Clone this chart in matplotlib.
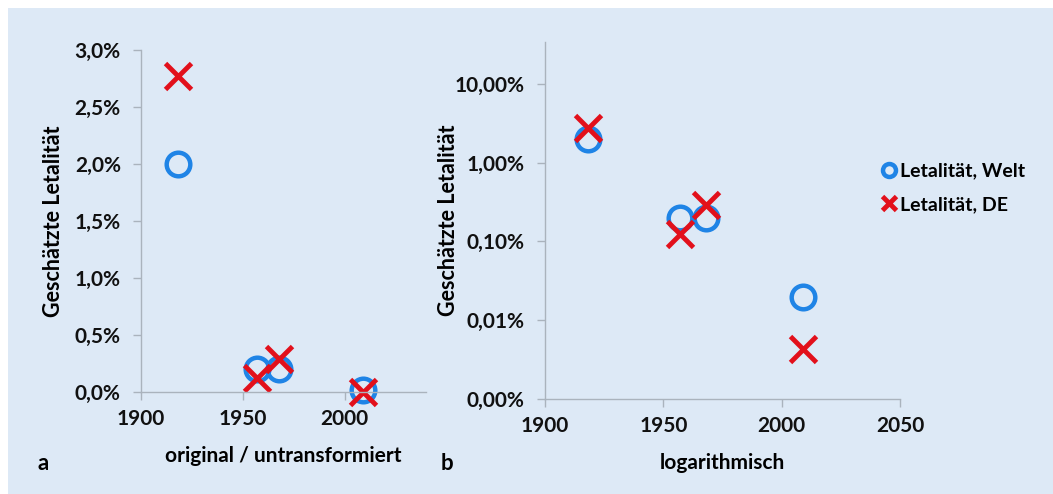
import matplotlib
matplotlib.use('Agg')
import matplotlib.pyplot as plt
from matplotlib.ticker import FuncFormatter, FixedLocator, NullLocator
from matplotlib.patches import Rectangle

# Data (Letalität in %)
years = [1918, 1957, 1968, 2009]
welt = [2.0, 0.2, 0.2, 0.02]
de = [2.77, 0.125, 0.29, 0.0043]

bg = '#dde9f6'
blue = '#1f84e6'
red = '#e2101b'
grey = '#aab3bd'
fs = 15
plt.rcParams['font.family'] = ['Lato', 'DejaVu Sans']
plt.rcParams['font.weight'] = 'bold'

fig = plt.figure(figsize=(10.53, 4.94), dpi=100, facecolor='white')
fig.patches.append(Rectangle((8 / 1053, 0), 1 - 8 / 1053, 1 - 8 / 494,
                             transform=fig.transFigure, facecolor=bg,
                             edgecolor='none', zorder=-10))

ax1 = fig.add_axes([141 / 1053, 1 - 392 / 494, 285 / 1053, 342 / 494])
ax2 = fig.add_axes([545 / 1053, 1 - 399 / 494, 355 / 1053, 357 / 494])


def style(ax):
    ax.set_facecolor('none')
    for s in ['top', 'right']:
        ax.spines[s].set_visible(False)
    for s in ['left', 'bottom']:
        ax.spines[s].set_color(grey)
        ax.spines[s].set_linewidth(1.0)
    ax.tick_params(axis='both', colors=grey, width=1.0, length=5.5,
                   labelcolor='#111111', labelsize=fs)
    ax.tick_params(axis='y', pad=9)
    ax.tick_params(axis='x', pad=7)
    for lab in ax.get_xticklabels() + ax.get_yticklabels():
        lab.set_fontweight('bold')


def plot_points(ax):
    ax.plot(years, welt, linestyle='none', marker='o', ms=17, mfc='none',
            mec=blue, mew=3.2, label='Letalität, Welt', clip_on=False)
    ax.plot(years, de, linestyle='none', marker='x', ms=19, mec=red,
            mew=3.5, label='Letalität, DE', clip_on=False)


# panel a: linear
plot_points(ax1)
ax1.set_xlim(1900, 2040)
ax1.set_ylim(0, 3)
ax1.xaxis.set_major_locator(FixedLocator([1900, 1950, 2000]))
ax1.yaxis.set_major_locator(FixedLocator([0, 0.5, 1, 1.5, 2, 2.5, 3]))
ax1.yaxis.set_major_formatter(FuncFormatter(
    lambda v, p: f'{v:.1f}%'.replace('.', ',')))
style(ax1)
ax1.set_ylabel('Geschätzte Letalität', fontsize=15.5, fontweight='bold',
               labelpad=8)
ax1.set_xlabel('original / untransformiert', fontsize=fs,
               fontweight='bold', labelpad=12)

# panel b: logarithmic
plot_points(ax2)
ax2.set_yscale('log')
ax2.set_xlim(1900, 2050)
ax2.set_ylim(0.001, 34)
ax2.xaxis.set_major_locator(FixedLocator([1900, 1950, 2000, 2050]))
ax2.yaxis.set_major_locator(FixedLocator([0.001, 0.01, 0.1, 1, 10]))
ax2.yaxis.set_minor_locator(NullLocator())
ax2.yaxis.set_major_formatter(FuncFormatter(
    lambda v, p: f'{v:.2f}%'.replace('.', ',')))
style(ax2)
ax2.set_ylabel('Geschätzte Letalität', fontsize=15.5, fontweight='bold',
               labelpad=-3)
ax2.set_xlabel('logarithmisch', fontsize=fs, fontweight='bold',
               labelpad=12)

leg = fig.legend(handles=ax2.get_lines(), loc='center left',
                 bbox_to_anchor=(884 / 1053, 1 - 188 / 494),
                 frameon=False, fontsize=14, handlelength=0.5,
                 handletextpad=0.3, labelspacing=0.85, markerscale=0.55,
                 borderaxespad=0, borderpad=0)
for t in leg.get_texts():
    t.set_fontweight('bold')

fig.text(43 / 1053, 1 - 463 / 494, 'a', fontsize=16, fontweight='bold',
         va='center', ha='center')
fig.text(447 / 1053, 1 - 463 / 494, 'b', fontsize=16, fontweight='bold',
         va='center', ha='center')

fig.savefig('out.png', dpi=100, facecolor=fig.get_facecolor())
